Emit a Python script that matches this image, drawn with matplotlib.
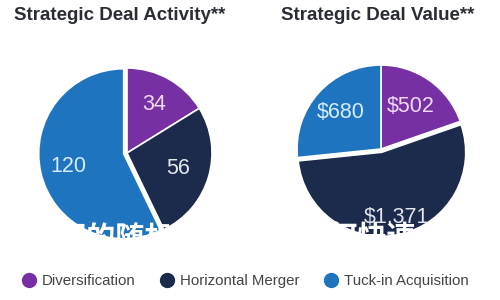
import numpy as np
import matplotlib
matplotlib.use("Agg")
import matplotlib.pyplot as plt
from matplotlib.lines import Line2D

# Two pie charts: deal counts and deal values by strategy type
CATEGORIES = ["Diversification", "Horizontal Merger", "Tuck-in Acquisition"]
ACTIVITY = [34, 56, 120]
VALUE = [502, 1371, 680]
ACTIVITY_LABELS = ["34", "56", "120"]
VALUE_LABELS = ["$502", "$1,371", "$680"]

COLORS = ["#7630a3", "#1c2b4b", "#1f74bf"]
TEXT_COLORS = ["#eed9f6", "#e3e6ec", "#d6ecfa"]
FONT = "Liberation Sans"


def draw_pie(ax, values, labels, explode, label_r):
    wedges, _ = ax.pie(values, colors=COLORS, startangle=90, counterclock=False,
                       explode=explode, radius=1.0,
                       wedgeprops=dict(edgecolor="white", linewidth=1.2))
    for w, lab, r, tc in zip(wedges, labels, label_r, TEXT_COLORS):
        mid = np.deg2rad((w.theta1 + w.theta2) / 2)
        cx, cy = w.center
        ax.text(cx + r * np.cos(mid), cy + r * np.sin(mid), lab,
                ha="center", va="center", fontsize=15.5, color=tc, family=FONT)
    ax.set_xlim(-1, 1)
    ax.set_ylim(-1, 1)
    ax.set_aspect("equal")
    ax.axis("off")
    for w in wedges:
        w.set_clip_on(False)


fig = plt.figure(figsize=(5, 3), dpi=100)
W, H = 500, 300

# left pie: centre (127, 153), radius 85 px
ax1 = fig.add_axes([(127 - 85) / W, (H - 153 - 85) / H, 170 / W, 170 / H])
draw_pie(ax1, ACTIVITY, ACTIVITY_LABELS, [0, 0, 0.04], [0.66, 0.63, 0.67])

# right pie: centre (381, 149), radius 84 px
ax2 = fig.add_axes([(381 - 84) / W, (H - 149 - 84) / H, 168 / W, 168 / H])
draw_pie(ax2, VALUE, VALUE_LABELS, [0, 0.04, 0], [0.62, 0.80, 0.64])

fig.text(120 / W, 1 - 16 / H, "Strategic Deal Activity**", ha="center", va="center",
         fontsize=13.5, fontweight="bold", color="#2a2d33", family=FONT)
fig.text(378 / W, 1 - 16 / H, "Strategic Deal Value**", ha="center", va="center",
         fontsize=13.5, fontweight="bold", color="#2a2d33", family=FONT)

# white watermark text across the bottom of the pies
cjk = ["Noto Sans CJK SC", "DejaVu Sans"]
fig.text(57 / W, 1 - 238 / H, "习的随机", ha="left", va="center", fontsize=21,
         fontweight="bold", color="white", family=cjk)
fig.text(299 / W, 1 - 238 / H, "如何快速", ha="left", va="center", fontsize=21,
         fontweight="bold", color="white", family=cjk)

handles = [Line2D([], [], marker="o", linestyle="none", markersize=10,
                  markerfacecolor=c, markeredgecolor=c) for c in COLORS]
fig.legend(handles, CATEGORIES, loc="center", bbox_to_anchor=(0.49, 1 - 281 / H),
           ncol=3, frameon=False, handletextpad=0.35, columnspacing=1.6,
           handlelength=1.0, prop=dict(family=FONT, size=10.8), labelcolor="#444444")

fig.savefig("out.png", dpi=100)
